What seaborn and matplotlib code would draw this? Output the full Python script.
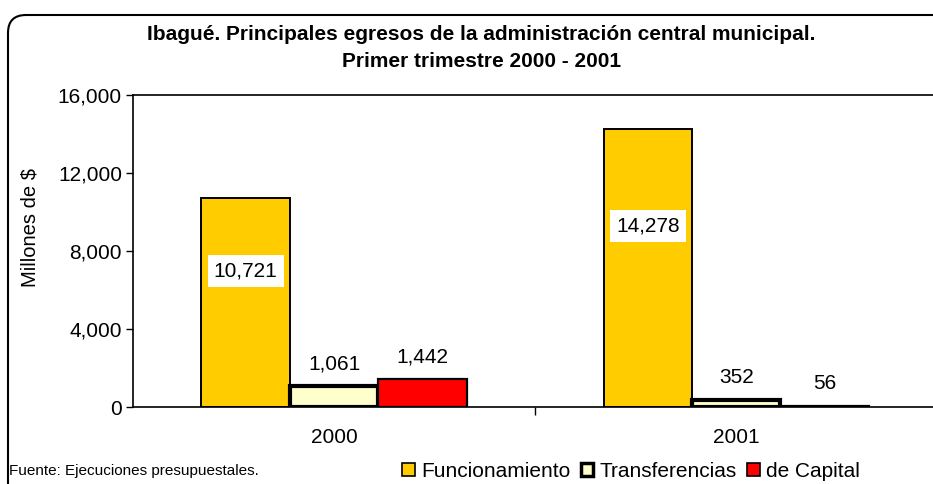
import matplotlib
matplotlib.use("Agg")
import matplotlib.pyplot as plt
import matplotlib.patches as mpatches
from matplotlib.transforms import IdentityTransform
from matplotlib.ticker import FuncFormatter, FixedLocator
import seaborn as sns
import pandas as pd

# data
years = ["2000", "2001"]
series = ["Funcionamiento", "Transferencias", "de Capital"]
funcionamiento = [10721, 14278]
transferencias = [1061, 352]
capital = [1442, 56]
colors = ["#FFCC00", "#FFFFCC", "#FF0000"]

rows = []
for name, vals in zip(series, [funcionamiento, transferencias, capital]):
    for y, v in zip(years, vals):
        rows.append({"year": y, "serie": name, "valor": v})
df = pd.DataFrame(rows)

sns.set_theme(style="white")
plt.rcParams["font.family"] = ["Liberation Sans", "DejaVu Sans"]
plt.rcParams.update({"text.color": "black", "axes.labelcolor": "black",
                     "xtick.color": "black", "ytick.color": "black"})

fig = plt.figure(figsize=(9.33, 4.84), dpi=100)
ax = fig.add_axes([0.1426, 0.159, 0.862, 0.6446])

sns.barplot(data=df, x="year", y="valor", hue="serie", hue_order=series,
            palette=colors, width=0.66, gap=0, saturation=1, ax=ax,
            legend=False, errorbar=None)

# edges: transferencias drawn with a heavier outline
for cont, lw in zip(ax.containers, [1.4, 3.0, 1.6]):
    for bar in cont:
        bar.set_edgecolor("black")
        bar.set_linewidth(lw)

# value labels
for i, cont in enumerate(ax.containers):
    for bar in cont:
        v = bar.get_height()
        xc = bar.get_x() + bar.get_width() / 2
        txt = f"{v:,.0f}"
        if i == 0:
            ax.text(xc, v * 0.65, txt, ha="center", va="center", fontsize=15,
                    bbox=dict(boxstyle="square,pad=0.3", fc="white", ec="none"))
        else:
            ax.annotate(txt, (xc, v), xytext=(0, 16), textcoords="offset points",
                        ha="center", va="center", fontsize=15)

ax.set_ylim(0, 16000)
ax.set_xlim(-0.5, 1.5)
ax.set_yticks([0, 4000, 8000, 12000, 16000])
ax.yaxis.set_major_formatter(FuncFormatter(lambda v, p: f"{v:,.0f}"))
ax.tick_params(axis="y", which="major", left=True, length=5, width=1,
               color="black", labelsize=15, pad=3)
ax.tick_params(axis="x", which="major", length=0, labelsize=15, pad=15)
ax.xaxis.set_minor_locator(FixedLocator([0.5]))
ax.tick_params(axis="x", which="minor", bottom=True, length=6, width=1,
               color="black", direction="out")
ax.set_xlabel("")
ax.set_ylabel("Millones de $", fontsize=14.5)
ax.yaxis.set_label_coords(-0.116, 0.574)

for side in ["left", "bottom", "top"]:
    ax.spines[side].set_visible(True)
    ax.spines[side].set_color("black")
    ax.spines[side].set_linewidth(1.2)
ax.spines["right"].set_visible(False)

fig.text(0.516, 0.929, "Ibagué. Principales egresos de la administración central municipal.",
         ha="center", va="center", fontsize=15, fontweight="bold")
fig.text(0.516, 0.872, "Primer trimestre 2000 - 2001",
         ha="center", va="center", fontsize=15, fontweight="bold")

fig.text(0.010, 0.026, "Fuente: Ejecuciones presupuestales.", ha="left", va="center",
         fontsize=11)

handles = [mpatches.Patch(facecolor=c, edgecolor="black", linewidth=2.5 if c == "#FFFFCC" else 1.2,
                          label=s) for c, s in zip(colors, series)]
fig.legend(handles=handles, loc="center left", bbox_to_anchor=(0.420, 0.026), ncol=3,
           frameon=False, fontsize=15, handlelength=0.6, handleheight=0.6,
           handletextpad=0.3, columnspacing=0.5, borderpad=0)

# rounded outer frame
frame = mpatches.FancyBboxPatch((8, -40), 960, 509,
                                boxstyle="round,pad=0,rounding_size=18",
                                fc="none", ec="black", lw=1.5,
                                transform=IdentityTransform())
fig.patches.append(frame)

fig.savefig("out.png", dpi=100)
